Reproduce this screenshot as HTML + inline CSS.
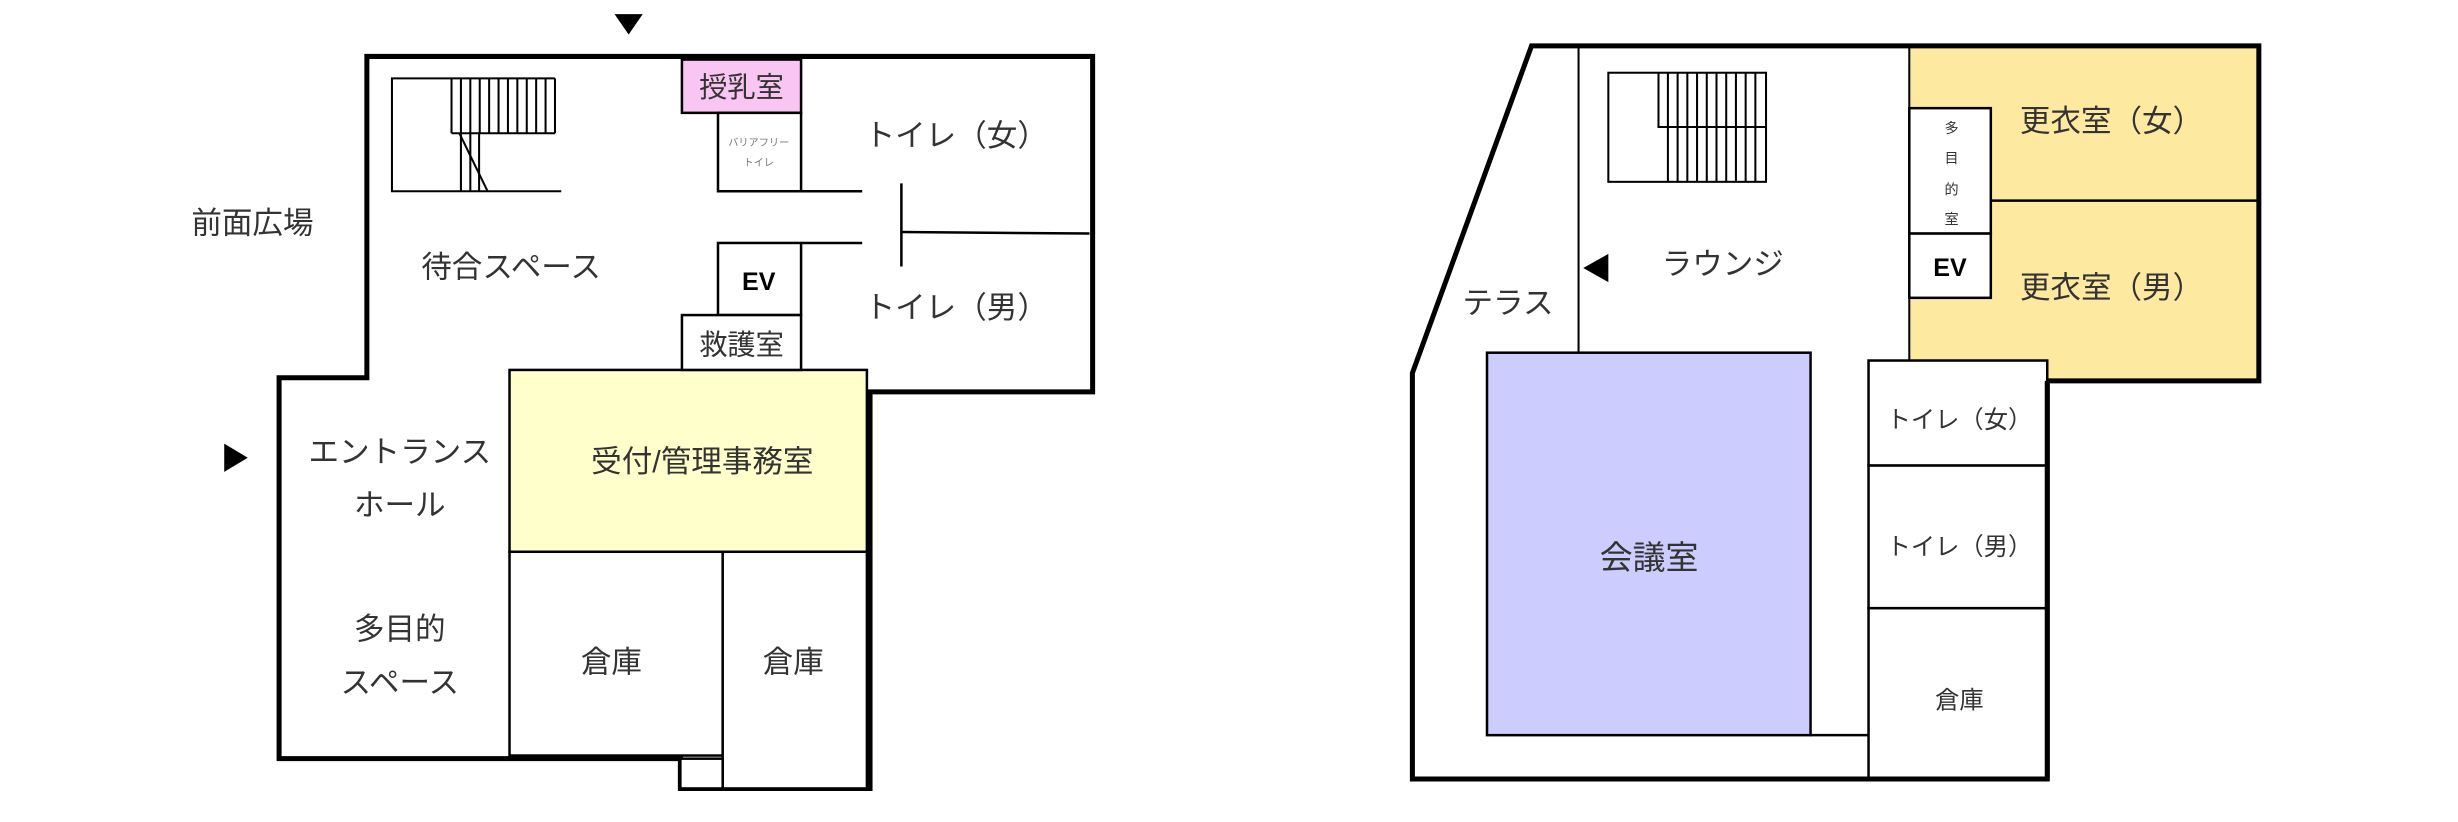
<!DOCTYPE html>
<html><head><meta charset="utf-8"><style>
html,body{margin:0;padding:0;background:#fff;}
svg{display:block;}
text{font-family:"Liberation Sans","Noto Sans CJK JP",sans-serif;fill:#333;}
</style></head><body>
<svg width="2458" height="822" viewBox="0 0 1568 524.4" xmlns="http://www.w3.org/2000/svg">
<rect width="1568" height="524.4" fill="#fff"/>
<!-- LEFT PLAN -->
<rect x="325" y="236" width="228" height="116" fill="#ffffcc" stroke="#000" stroke-width="1.6"/>
<rect x="435" y="38" width="76" height="34" fill="#f9c6f3" stroke="#000" stroke-width="1.6"/>
<polygon points="234,36 697,36 697,250 555,250 555,503 434,503 434,484 178,484 178,241 234,241" fill="none" stroke="#000" stroke-width="3.2"/>
<polygon points="392,9 410,9 401,22" fill="#000"/>
<polygon points="143,283 158,292 143,301" fill="#000"/>
<g stroke="#000" stroke-width="1.3" fill="none">
<polyline points="354,50 250,50 250,122 358,122"/>
<line x1="288" y1="85" x2="354" y2="85"/>
<line x1="288" y1="50" x2="288" y2="85"/><line x1="294" y1="50" x2="294" y2="85"/><line x1="300" y1="50" x2="300" y2="85"/><line x1="306" y1="50" x2="306" y2="85"/><line x1="312" y1="50" x2="312" y2="85"/><line x1="318" y1="50" x2="318" y2="85"/><line x1="324" y1="50" x2="324" y2="85"/><line x1="330" y1="50" x2="330" y2="85"/><line x1="336" y1="50" x2="336" y2="85"/><line x1="342" y1="50" x2="342" y2="85"/><line x1="348" y1="50" x2="348" y2="85"/><line x1="354" y1="50" x2="354" y2="85"/>
<line x1="294" y1="85" x2="294" y2="122"/><line x1="300" y1="85" x2="300" y2="122"/><line x1="305.6" y1="85" x2="305.6" y2="122"/>
<line x1="293" y1="85" x2="311" y2="122"/>
</g>
<g stroke="#000" stroke-width="1.6" fill="#fff">
<rect x="458" y="72" width="53" height="50"/>
<rect x="458" y="155" width="53" height="46"/>
<rect x="435" y="201" width="76" height="35"/>
<rect x="325" y="352" width="136" height="130"/>
<rect x="461" y="352" width="92" height="151"/>
<rect x="434" y="484" width="27" height="19"/>
<line x1="511" y1="122" x2="550" y2="122"/>
<line x1="511" y1="155" x2="550" y2="155"/>
<line x1="575" y1="117" x2="575" y2="170"/>
<line x1="575" y1="148" x2="695" y2="149"/>
</g>
<g font-size="19.5">
<text x="473" y="62" text-anchor="middle" font-size="18">授乳室</text>
<text x="161" y="149" text-anchor="middle">前面広場</text>
<text x="326" y="177" text-anchor="middle">待合スペース</text>
<text x="610" y="93" text-anchor="middle">トイレ（女）</text>
<text x="610" y="203" text-anchor="middle">トイレ（男）</text>
<text x="473" y="226" text-anchor="middle" font-size="18">救護室</text>
<text x="255" y="295" text-anchor="middle">エントランス</text>
<text x="255" y="329" text-anchor="middle">ホール</text>
<text x="448" y="301" text-anchor="middle">受付/管理事務室</text>
<text x="255" y="408" text-anchor="middle">多目的</text>
<text x="255" y="442" text-anchor="middle">スペース</text>
<text x="390" y="429" text-anchor="middle">倉庫</text>
<text x="506" y="429" text-anchor="middle">倉庫</text>
</g>
<text x="484" y="185" font-size="16" font-weight="bold" text-anchor="middle" style="fill:#000">EV</text>
<text x="484" y="93" font-size="6.5" text-anchor="middle" style="fill:#777">バリアフリー</text>
<text x="484" y="106" font-size="6.5" text-anchor="middle" style="fill:#777">トイレ</text>

<!-- RIGHT PLAN -->
<rect x="1218" y="30" width="223" height="213" fill="#fee9a0"/>
<rect x="948.6" y="225" width="206.4" height="244" fill="#ccccff" stroke="#000" stroke-width="1.6"/>
<polygon points="977,29.3 1441,29.3 1441,243 1306,243 1306,497 901,497 901,238" fill="none" stroke="#000" stroke-width="3.2"/>
<polygon points="1026,162 1026,180 1010,171" fill="#000"/>
<g stroke="#000" stroke-width="1.3" fill="none">
<line x1="1007" y1="30" x2="1007" y2="225"/>
<rect x="1026" y="46.4" width="100.6" height="69.6"/>
<polyline points="1058,46.4 1058,81 1126.6,81"/>
<line x1="1064" y1="46.4" x2="1064" y2="116"/><line x1="1070.2" y1="46.4" x2="1070.2" y2="116"/><line x1="1076.4" y1="46.4" x2="1076.4" y2="116"/><line x1="1082.6" y1="46.4" x2="1082.6" y2="116"/><line x1="1088.8" y1="46.4" x2="1088.8" y2="116"/><line x1="1095" y1="46.4" x2="1095" y2="116"/><line x1="1101.2" y1="46.4" x2="1101.2" y2="116"/><line x1="1107.4" y1="46.4" x2="1107.4" y2="116"/><line x1="1113.6" y1="46.4" x2="1113.6" y2="116"/><line x1="1119.8" y1="46.4" x2="1119.8" y2="116"/>
<line x1="1218" y1="30" x2="1218" y2="243"/>
</g>
<g stroke="#000" stroke-width="1.6" fill="#fff">
<line x1="1270" y1="128" x2="1441" y2="128"/>
<rect x="1218" y="69" width="52" height="80"/>
<rect x="1218" y="149" width="52" height="41"/>
<rect x="1192" y="230" width="114" height="67"/>
<rect x="1192" y="297" width="114" height="91"/>
<rect x="1192" y="388" width="114" height="109"/>
<line x1="1155" y1="469" x2="1192" y2="469"/>
</g>
<line x1="1306" y1="243" x2="1306" y2="497" stroke="#000" stroke-width="3.2"/>
<line x1="1192" y1="497" x2="1306" y2="497" stroke="#000" stroke-width="3.2"/>
<g font-size="19.5">
<text x="1099" y="175" text-anchor="middle">ラウンジ</text>
<text x="962" y="200" text-anchor="middle">テラス</text>
<text x="1347" y="84" text-anchor="middle">更衣室（女）</text>
<text x="1347" y="190" text-anchor="middle">更衣室（男）</text>
<text x="1052" y="363" text-anchor="middle" font-size="21">会議室</text>
</g>
<g font-size="15.5">
<text x="1250" y="273" text-anchor="middle">トイレ（女）</text>
<text x="1250" y="354" text-anchor="middle">トイレ（男）</text>
<text x="1250" y="452" text-anchor="middle">倉庫</text>
</g>
<g font-size="9" text-anchor="middle">
<text x="1245" y="85">多</text>
<text x="1245" y="104">目</text>
<text x="1245" y="124">的</text>
<text x="1245" y="143">室</text>
</g>
<text x="1244" y="176" font-size="16" font-weight="bold" text-anchor="middle" style="fill:#000">EV</text>
</svg>
</body></html>
